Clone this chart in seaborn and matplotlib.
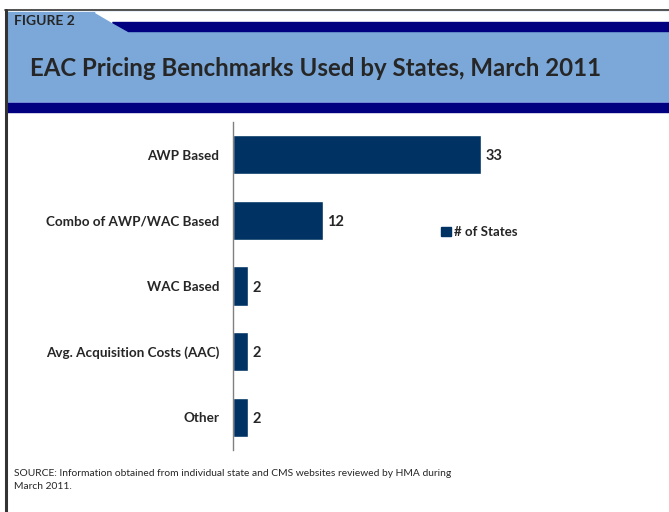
import matplotlib
matplotlib.use("Agg")
import matplotlib.pyplot as plt
import seaborn as sns
import pandas as pd
from matplotlib.patches import Rectangle, Polygon, Patch
from matplotlib.lines import Line2D

categories = ["AWP Based", "Combo of AWP/WAC Based", "WAC Based",
              "Avg. Acquisition Costs (AAC)", "Other"]
values = [33, 12, 2, 2, 2]
series_name = "# of States"
title = "EAC Pricing Benchmarks Used by States, March 2011"
figure_label = "FIGURE 2"
source = "SOURCE: Information obtained from individual state and CMS websites reviewed by HMA during\nMarch 2011."

BAR = "#003263"
LIGHT = "#7BA8D9"
DARK = "#000080"
FONT = "Lato"

sns.set_style("white")
plt.rcParams["font.family"] = [FONT, "DejaVu Sans"]

W, H = 669, 512
fig = plt.figure(figsize=(W / 100, H / 100), dpi=100)

def fx(px):
    return px / W

def fy(py):
    return 1 - py / H

# header band
fig.patches.append(Rectangle((fx(7), fy(103)), fx(W), (103 - 12) / H,
                             transform=fig.transFigure, color=LIGHT, zorder=0))
# white notch at top right of tab
fig.patches.append(Polygon([(fx(95), fy(12)), (fx(W), fy(12)), (fx(W), fy(22)), (fx(112), fy(22))],
                           closed=True, transform=fig.transFigure, color="white", zorder=1))
# dark top stripe
fig.patches.append(Polygon([(fx(112), fy(22)), (fx(W), fy(22)), (fx(W), fy(31)), (fx(128), fy(31))],
                           closed=True, transform=fig.transFigure, color=DARK, zorder=1))
# thin lighter line above bottom stripe
fig.patches.append(Rectangle((fx(7), fy(103)), fx(W), 1.5 / H,
                             transform=fig.transFigure, color="#8FA8E8", zorder=1))
# dark bottom stripe
fig.patches.append(Rectangle((fx(7), fy(112)), fx(W), 9 / H,
                             transform=fig.transFigure, color=DARK, zorder=1))
# frame lines
fig.lines.append(Line2D([fx(5), 1], [fy(10), fy(10)], transform=fig.transFigure,
                        color="#333333", lw=1.2))
fig.lines.append(Line2D([fx(6), fx(6)], [fy(10), 0], transform=fig.transFigure,
                        color="#333333", lw=2.2))

fig.text(fx(14), fy(21), figure_label, fontsize=10, fontweight="bold",
         color="#262626", va="center", ha="left")
fig.text(fx(30), fy(68), title, fontsize=17.3, fontweight="bold",
         color="#262626", va="center", ha="left")
fig.text(fx(14), fy(480), source, fontsize=7.4, color="#262626",
         va="center", ha="left", linespacing=1.6)

# chart axes
ax = fig.add_axes([fx(233), fy(450), fx(560 - 233), (450 - 122) / H])
df = pd.DataFrame({"category": categories, "value": values})
sns.barplot(data=df, x="value", y="category", color=BAR, width=0.6,
            saturation=1, ax=ax, orient="h")
ax.set_xlim(0, (560 - 233) / (248 / 33))
ax.set_ylim(4.5, -0.5)
ax.set_xlabel("")
ax.set_ylabel("")
ax.set_xticks([])
for s in ["top", "right", "bottom"]:
    ax.spines[s].set_visible(False)
ax.spines["left"].set_color("#808080")
ax.spines["left"].set_linewidth(1)
ax.tick_params(axis="y", length=0, pad=10)
for lab in ax.get_yticklabels():
    lab.set_fontweight("bold")
    lab.set_fontsize(9.7)
    lab.set_color("#262626")
for i, v in enumerate(values):
    ax.text(v + 0.55, i, str(v), va="center_baseline", ha="left", fontsize=10.5,
            fontweight="bold", color="#262626")

ax.legend(handles=[Patch(facecolor=BAR, edgecolor=BAR, label=series_name)],
          loc="center left", bbox_to_anchor=((436 - 233) / (560 - 233), (450 - 232) / 328),
          frameon=False, handlelength=0.7, handleheight=0.7,
          handletextpad=0.25, borderaxespad=0,
          prop={"weight": "bold", "size": 9.5})
for t in ax.get_legend().get_texts():
    t.set_color("#262626")

fig.savefig("out.png", dpi=100)
